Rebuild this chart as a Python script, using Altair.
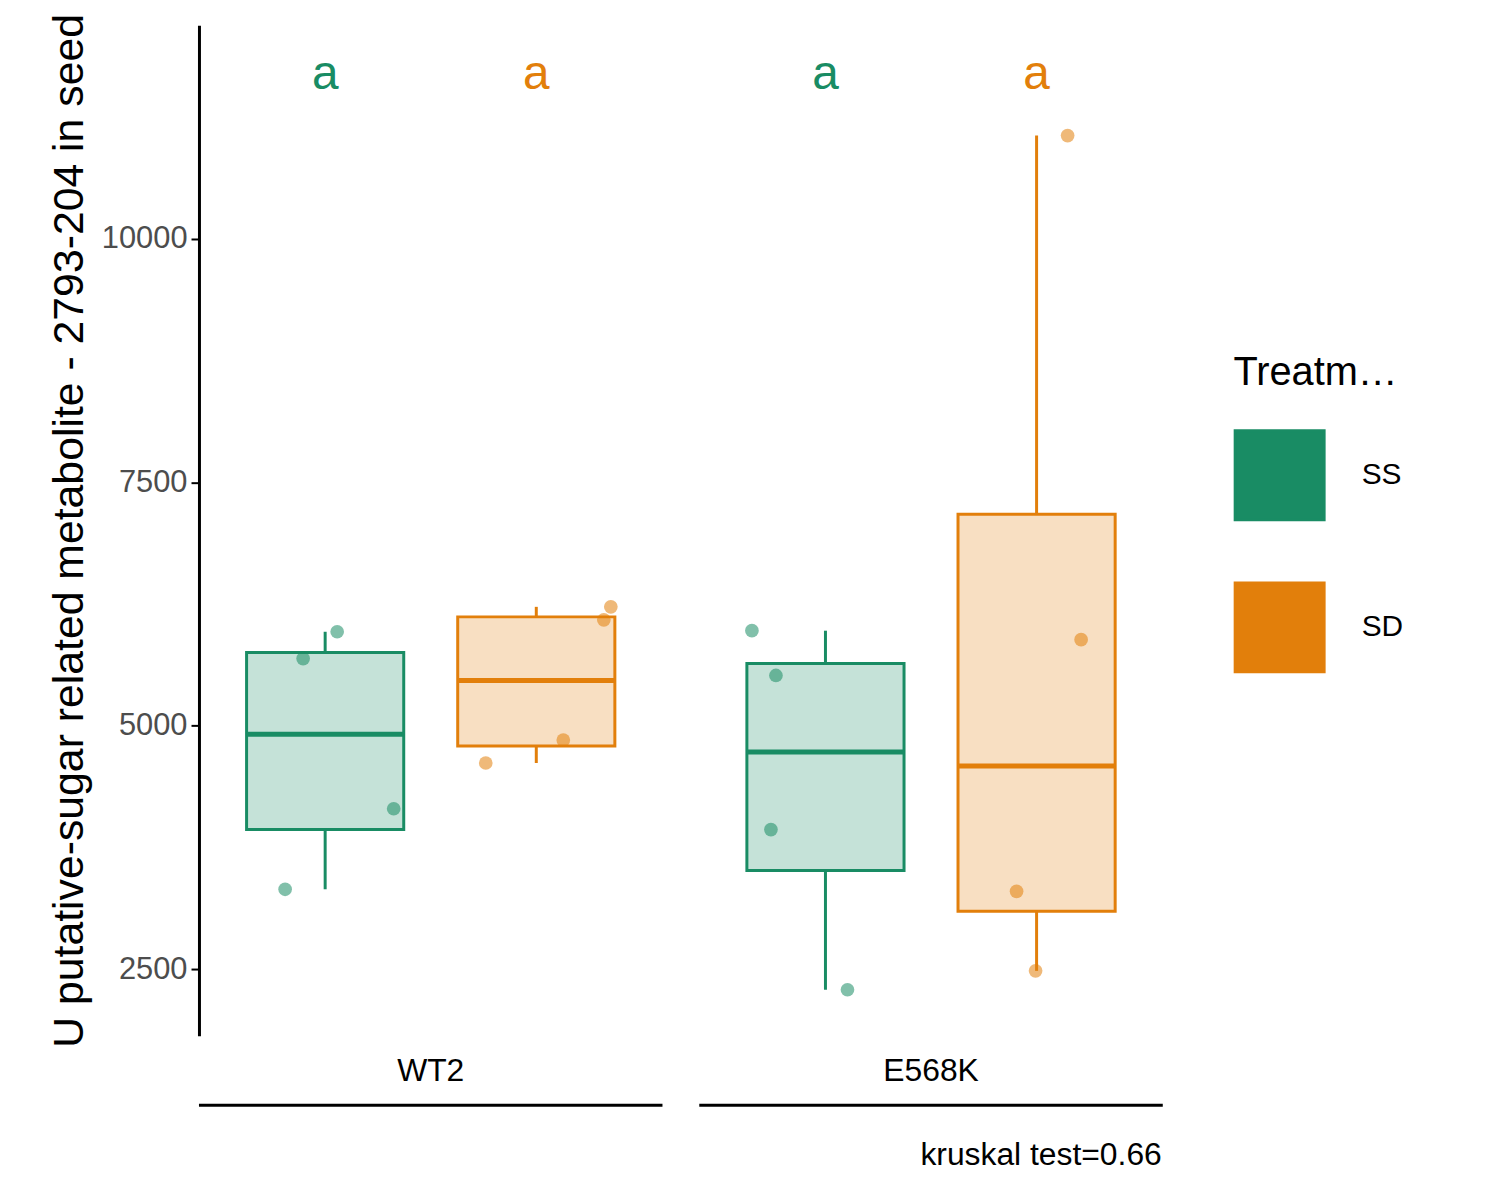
import pandas as pd
import altair as alt

FONT = "Liberation Sans"
GREEN = "#198c64"
ORANGE = "#e27f0b"

genotypes = ["WT2", "E568K"]
treatments = ["SS", "SD"]

# box statistics per group (genotype, treatment)
box_geno = ["WT2", "WT2", "E568K", "E568K"]
box_trt = ["SS", "SD", "SS", "SD"]
box_lo = [3320, 4617, 2288, 2482]
box_q1 = [3933, 4791, 3514, 3095]
box_med = [4913, 5465, 4729, 4586]
box_q3 = [5751, 6118, 5638, 7171]
box_hi = [5965, 6221, 5976, 11062]
letters = ["a", "a", "a", "a"]

# individual samples with horizontal jitter (fraction of group width)
pt_geno = ["WT2"] * 8 + ["E568K"] * 8
pt_trt = (["SS"] * 4 + ["SD"] * 4) * 2
pt_val = [5965, 5690, 4147, 3320, 6221, 6088, 4852, 4617,
          5976, 5516, 3933, 2288, 11062, 5884, 3299, 2482]
pt_jit = [0.024, -0.044, 0.137, -0.080, 0.149, 0.135, 0.054, -0.101,
          -0.147, -0.099, -0.109, 0.044, 0.062, 0.089, -0.040, -0.002]

dodge = {"SS": -0.211, "SD": 0.211}

boxes = pd.DataFrame(dict(geno=box_geno, Treatment=box_trt, lo=box_lo, q1=box_q1,
                          med=box_med, q3=box_q3, hi=box_hi, lab=letters))
boxes["pos"] = boxes.Treatment.map(dodge)
boxes["top"] = 11685
pts = pd.DataFrame(dict(geno=pt_geno, Treatment=pt_trt, val=pt_val, jit=pt_jit))
pts["pos"] = pts.Treatment.map(dodge) + pts.jit

color = alt.Scale(domain=treatments, range=[GREEN, ORANGE])
leg = alt.Legend(orient="none", legendX=1040, legendY=330,
                 title="Treatment", titleFontSize=40,
                 titleFontWeight="normal", titleFont=FONT,
                 titleColor="black", titlePadding=36,
                 labelFontSize=30, labelFont=FONT,
                 labelColor="black", labelOffset=36,
                 symbolType="square", symbolSize=8000,
                 symbolStrokeWidth=3, rowPadding=50)
col = alt.Color("Treatment:N", scale=color, sort=treatments, legend=leg)

x = alt.X("geno:N", sort=genotypes, title=None,
          scale=alt.Scale(range=[-18.5, 987.5], paddingInner=0, paddingOuter=0),
          axis=alt.Axis(domain=False, ticks=False, labelAngle=0, labelFontSize=32,
                        labelColor="black", labelPadding=20, labelFont=FONT))
xo = alt.XOffset("pos:Q", scale=alt.Scale(domain=[-0.5, 0.5]))
y_scale = alt.Scale(domain=[1816, 12196], nice=False, zero=False)
yax = alt.Axis(values=[2500, 5000, 7500, 10000], format="d", grid=False,
               domainColor="black", domainWidth=3, tickColor="black", tickWidth=2,
               tickSize=8, labelFontSize=31, labelColor="#4d4d4d", labelFont=FONT,
               labelPadding=4,
               title="U putative-sugar related metabolite - 2793-204 in seed",
               titleFontSize=43, titleFont=FONT, titleFontWeight="normal",
               titleColor="black", titlePadding=10)

base = alt.Chart(boxes).encode(x=x, xOffset=xo, color=col)

whisk_lo = base.mark_rule(strokeWidth=3).encode(
    y=alt.Y("lo:Q", scale=y_scale, axis=yax), y2="q1:Q")
whisk_hi = base.mark_rule(strokeWidth=3).encode(y="q3:Q", y2="hi:Q")
box = base.mark_bar(size=158, fillOpacity=0.25, strokeWidth=3).encode(
    y="q1:Q", y2="q3:Q",
    stroke=alt.Stroke("Treatment:N", scale=color, sort=treatments, legend=leg))
med = base.mark_tick(size=158, thickness=5, orient="horizontal", opacity=1).encode(
    y="med:Q")
lab = base.mark_text(fontSize=48, font=FONT, baseline="middle").encode(
    y="top:Q", text="lab:N")
dots = alt.Chart(pts).mark_circle(size=190, opacity=0.55).encode(
    x=x, xOffset=alt.XOffset("pos:Q", scale=alt.Scale(domain=[-0.5, 0.5])),
    y="val:Q", color=col)

under = alt.Chart(pd.DataFrame(dict(geno=genotypes))).mark_tick(
    size=466, thickness=3, orient="horizontal", color="black", opacity=1).encode(
    x=x, y=alt.value(1086))
note = alt.Chart(pd.DataFrame(dict(t=["kruskal test=0.66"]))).mark_text(
    align="right", baseline="middle", fontSize=32, font=FONT, color="black").encode(
    text="t:N", x=alt.value(968), y=alt.value(1136))

chart = alt.layer(whisk_lo, whisk_hi, box, med, dots, lab, under, note).properties(
    width=970, height=1016, autosize=alt.AutoSizeParams(type="none"),
    padding={"left": 192, "top": 14, "right": 330, "bottom": 170},
).configure_view(stroke=None)

chart.save("out.html", embed_options={"renderer": "svg", "actions": False})
